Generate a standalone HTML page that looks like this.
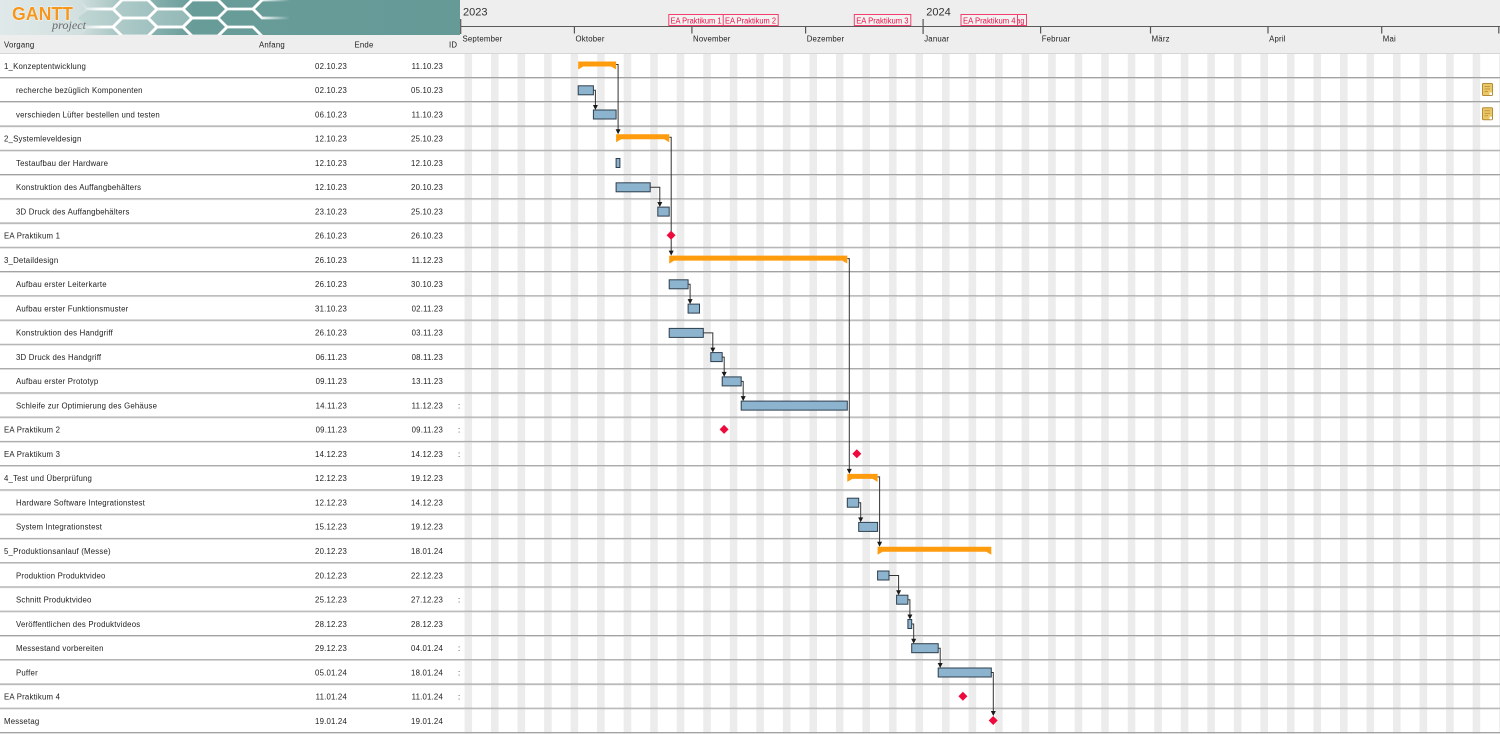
<!DOCTYPE html>
<html><head><meta charset="utf-8"><style>
html,body{margin:0;padding:0;background:#fff;overflow:hidden;width:1500px;height:734px}
svg{display:block}
.t{font-family:"Liberation Sans",sans-serif;font-size:7.8px;letter-spacing:0.2px;fill:#222}
.m{font-family:"Liberation Sans",sans-serif;font-size:7.8px;letter-spacing:0.2px;fill:#222}
.y{font-family:"Liberation Sans",sans-serif;font-size:11px;fill:#333}
.l{font-family:"Liberation Sans",sans-serif;font-size:7.8px;fill:#ec1048}
.bar{fill:#8cb4cf;stroke:#2e3e4d;stroke-width:1}
.sum{fill:#fe9c0e}
.ms{fill:#ee0a3c}
.dep{stroke:#333;stroke-width:1;fill:none}
.ah{fill:#1a1a1a}
</style></head><body>
<svg width="1500" height="734" viewBox="0 0 1500 734" xmlns="http://www.w3.org/2000/svg">
<defs>
<linearGradient id="lg" gradientUnits="userSpaceOnUse" x1="0" y1="0" x2="460" y2="0">
<stop offset="0" stop-color="#e0e9e9"/>
<stop offset="0.17" stop-color="#d2e0df"/>
<stop offset="0.30" stop-color="#93b8b6"/>
<stop offset="0.42" stop-color="#689c99"/>
<stop offset="1" stop-color="#659a97"/>
</linearGradient>
<linearGradient id="fade" gradientUnits="userSpaceOnUse" x1="80" y1="0" x2="290" y2="0">
<stop offset="0" stop-color="#fff" stop-opacity="0"/>
<stop offset="0.12" stop-color="#fff" stop-opacity="0.9"/>
<stop offset="0.85" stop-color="#fff" stop-opacity="1"/>
<stop offset="1" stop-color="#fff" stop-opacity="0"/>
</linearGradient>
<clipPath id="logoclip"><rect x="0" y="0" width="460" height="35"/></clipPath>
</defs>

<!-- header backgrounds -->
<rect x="0" y="0" width="1500" height="54" fill="#eeeeee"/>
<!-- logo -->
<g clip-path="url(#logoclip)">
<rect x="0" y="0" width="460" height="35" fill="url(#lg)"/>
<g fill="#b4cfcd" fill-opacity="0.55">
<polygon points="113,9 122,0 148,0 157,9 148,18 122,18"/>
<polygon points="148,18 157,9 183,9 192,18 183,27 157,27"/>
<polygon points="113,27 122,18 148,18 157,27 148,36 122,36"/>
<polygon points="78,18 87,9 113,9 122,18 113,27 87,27"/>
</g>
<g fill="none" stroke="url(#fade)" stroke-width="2.8">
<polygon points="78,0 87,-9 113,-9 122,0 113,9 87,9"/>
<polygon points="78,18 87,9 113,9 122,18 113,27 87,27"/>
<polygon points="78,36 87,27 113,27 122,36 113,45 87,45"/>
<polygon points="113,9 122,0 148,0 157,9 148,18 122,18"/>
<polygon points="113,27 122,18 148,18 157,27 148,36 122,36"/>
<polygon points="148,0 157,-9 183,-9 192,0 183,9 157,9"/>
<polygon points="148,18 157,9 183,9 192,18 183,27 157,27"/>
<polygon points="148,36 157,27 183,27 192,36 183,45 157,45"/>
<polygon points="183,9 192,0 218,0 227,9 218,18 192,18"/>
<polygon points="183,27 192,18 218,18 227,27 218,36 192,36"/>
<polygon points="218,0 227,-9 253,-9 262,0 253,9 227,9"/>
<polygon points="218,36 227,27 253,27 262,36 253,45 227,45"/>
<polygon points="253,9 262,0 288,0 297,9 288,18 262,18"/>
</g>
<text x="12" y="20" font-family="Liberation Sans,sans-serif" font-weight="bold" font-size="18" fill="#f5961d" stroke="#fff" stroke-width="0.8" paint-order="stroke" textLength="61" lengthAdjust="spacingAndGlyphs">GANTT</text>
<text x="52" y="29" font-family="Liberation Serif,serif" font-style="italic" font-size="12" fill="#6a6a6a" textLength="34" lengthAdjust="spacingAndGlyphs">project</text>
</g>

<!-- table header -->
<rect x="0" y="35" width="460" height="18" fill="#eeeeee"/>
<text class="t" x="4" y="47.7">Vorgang</text>
<text class="t" x="259" y="47.7">Anfang</text>
<text class="t" x="354.5" y="47.7">Ende</text>
<text class="t" x="449" y="47.7">ID</text>

<!-- chart header -->
<line x1="461" y1="26.5" x2="1500" y2="26.5" stroke="#5a5a5a" stroke-width="1"/>
<line x1="460.7" y1="19" x2="460.7" y2="34" stroke="#555" stroke-width="1.2"/>
<line x1="923.1" y1="19" x2="923.1" y2="34" stroke="#555" stroke-width="1.2"/>
<g stroke="#555" stroke-width="1.2">
<line x1="574.4" y1="26.5" x2="574.4" y2="33.5"/>
<line x1="691.9" y1="26.5" x2="691.9" y2="33.5"/>
<line x1="805.6" y1="26.5" x2="805.6" y2="33.5"/>
<line x1="1040.6" y1="26.5" x2="1040.6" y2="33.5"/>
<line x1="1150.5" y1="26.5" x2="1150.5" y2="33.5"/>
<line x1="1268" y1="26.5" x2="1268" y2="33.5"/>
<line x1="1381.7" y1="26.5" x2="1381.7" y2="33.5"/>
<line x1="1498.8" y1="26.5" x2="1498.8" y2="33.5"/>
</g>
<text class="y" x="463" y="15.7">2023</text>
<text class="y" x="926.3" y="15.7">2024</text>
<text class="m" x="462.5" y="41.7">September</text>
<text class="m" x="575.5" y="41.7">Oktober</text>
<text class="m" x="693" y="41.7">November</text>
<text class="m" x="806.7" y="41.7">Dezember</text>
<text class="m" x="924.2" y="41.7">Januar</text>
<text class="m" x="1041.7" y="41.7">Februar</text>
<text class="m" x="1151.6" y="41.7">März</text>
<text class="m" x="1269.1" y="41.7">April</text>
<text class="m" x="1382.8" y="41.7">Mai</text>

<!-- milestone labels in header -->
<rect x="668.8" y="14.5" width="56" height="11" fill="#f2f2f2" stroke="#f2406c" stroke-width="1"/>
<text class="l" x="670.5" y="23.3" textLength="51" lengthAdjust="spacingAndGlyphs">EA Praktikum 1</text>
<rect x="723.2" y="14.5" width="55" height="11" fill="#f2f2f2" stroke="#f2406c" stroke-width="1"/>
<text class="l" x="725" y="23.3" textLength="51" lengthAdjust="spacingAndGlyphs">EA Praktikum 2</text>
<rect x="854.3" y="14.5" width="56.5" height="11" fill="#f2f2f2" stroke="#f2406c" stroke-width="1"/>
<text class="l" x="856.2" y="23.3" textLength="52.4" lengthAdjust="spacingAndGlyphs">EA Praktikum 3</text>
<rect x="991.5" y="14.5" width="35" height="11" fill="#f2f2f2" stroke="#f2406c" stroke-width="1"/>
<text class="l" x="993.3" y="23.3" textLength="31" lengthAdjust="spacingAndGlyphs">Messetag</text>
<rect x="961" y="14.5" width="56.5" height="11" fill="#f2f2f2" stroke="#f2406c" stroke-width="1"/>
<text class="l" x="963" y="23.3" textLength="52.6" lengthAdjust="spacingAndGlyphs">EA Praktikum 4</text>

<line x1="0" y1="53.5" x2="1500" y2="53.5" stroke="#d6d6d6" stroke-width="1"/>

<!-- weekend stripes -->
<g fill="#ececec">
<rect x="464.49" y="54" width="7.58" height="680"/><rect x="491.02" y="54" width="7.58" height="680"/><rect x="517.55" y="54" width="7.58" height="680"/><rect x="544.08" y="54" width="7.58" height="680"/><rect x="570.61" y="54" width="7.58" height="680"/><rect x="597.14" y="54" width="7.58" height="680"/><rect x="623.67" y="54" width="7.58" height="680"/><rect x="650.2" y="54" width="7.58" height="680"/><rect x="676.73" y="54" width="7.58" height="680"/><rect x="703.26" y="54" width="7.58" height="680"/>
<rect x="729.79" y="54" width="7.58" height="680"/><rect x="756.32" y="54" width="7.58" height="680"/><rect x="782.85" y="54" width="7.58" height="680"/><rect x="809.38" y="54" width="7.58" height="680"/><rect x="835.91" y="54" width="7.58" height="680"/><rect x="862.44" y="54" width="7.58" height="680"/><rect x="888.97" y="54" width="7.58" height="680"/><rect x="915.5" y="54" width="7.58" height="680"/><rect x="942.03" y="54" width="7.58" height="680"/><rect x="968.56" y="54" width="7.58" height="680"/>
<rect x="995.09" y="54" width="7.58" height="680"/><rect x="1021.62" y="54" width="7.58" height="680"/><rect x="1048.15" y="54" width="7.58" height="680"/><rect x="1074.68" y="54" width="7.58" height="680"/><rect x="1101.21" y="54" width="7.58" height="680"/><rect x="1127.74" y="54" width="7.58" height="680"/><rect x="1154.27" y="54" width="7.58" height="680"/><rect x="1180.8" y="54" width="7.58" height="680"/><rect x="1207.33" y="54" width="7.58" height="680"/><rect x="1233.86" y="54" width="7.58" height="680"/>
<rect x="1260.39" y="54" width="7.58" height="680"/><rect x="1286.92" y="54" width="7.58" height="680"/><rect x="1313.45" y="54" width="7.58" height="680"/><rect x="1339.98" y="54" width="7.58" height="680"/><rect x="1366.51" y="54" width="7.58" height="680"/><rect x="1393.04" y="54" width="7.58" height="680"/><rect x="1419.57" y="54" width="7.58" height="680"/><rect x="1446.1" y="54" width="7.58" height="680"/><rect x="1472.63" y="54" width="7.58" height="680"/><rect x="1499.16" y="54" width="7.58" height="680"/>
</g>

<!-- row separators -->
<g fill="#a2a2a2">
<rect x="0" y="77" width="1500" height="1"/><rect x="0" y="101" width="1500" height="1"/><rect x="0" y="125.5" width="1500" height="1"/><rect x="0" y="149.8" width="1500" height="1"/><rect x="0" y="174" width="1500" height="1"/><rect x="0" y="198.3" width="1500" height="1"/><rect x="0" y="222.5" width="1500" height="1"/><rect x="0" y="246.8" width="1500" height="1"/><rect x="0" y="271" width="1500" height="1"/><rect x="0" y="295.3" width="1500" height="1"/>
<rect x="0" y="319.6" width="1500" height="1"/><rect x="0" y="343.8" width="1500" height="1"/><rect x="0" y="368.1" width="1500" height="1"/><rect x="0" y="392.4" width="1500" height="1"/><rect x="0" y="416.6" width="1500" height="1"/><rect x="0" y="440.9" width="1500" height="1"/><rect x="0" y="465.1" width="1500" height="1"/><rect x="0" y="489.4" width="1500" height="1"/><rect x="0" y="513.7" width="1500" height="1"/><rect x="0" y="537.9" width="1500" height="1"/>
<rect x="0" y="562.2" width="1500" height="1"/><rect x="0" y="586.4" width="1500" height="1"/><rect x="0" y="610.7" width="1500" height="1"/><rect x="0" y="635" width="1500" height="1"/><rect x="0" y="659.2" width="1500" height="1"/><rect x="0" y="683.5" width="1500" height="1"/><rect x="0" y="707.7" width="1500" height="1"/><rect x="0" y="732" width="1500" height="1"/>
</g>
<g fill="#d4d4d4">
<rect x="0" y="78" width="1500" height="0.8"/><rect x="0" y="102" width="1500" height="0.8"/><rect x="0" y="126.5" width="1500" height="0.8"/><rect x="0" y="150.8" width="1500" height="0.8"/><rect x="0" y="175" width="1500" height="0.8"/><rect x="0" y="199.3" width="1500" height="0.8"/><rect x="0" y="223.5" width="1500" height="0.8"/><rect x="0" y="247.8" width="1500" height="0.8"/><rect x="0" y="272" width="1500" height="0.8"/><rect x="0" y="296.3" width="1500" height="0.8"/>
<rect x="0" y="320.6" width="1500" height="0.8"/><rect x="0" y="344.8" width="1500" height="0.8"/><rect x="0" y="369.1" width="1500" height="0.8"/><rect x="0" y="393.4" width="1500" height="0.8"/><rect x="0" y="417.6" width="1500" height="0.8"/><rect x="0" y="441.9" width="1500" height="0.8"/><rect x="0" y="466.1" width="1500" height="0.8"/><rect x="0" y="490.4" width="1500" height="0.8"/><rect x="0" y="514.7" width="1500" height="0.8"/><rect x="0" y="538.9" width="1500" height="0.8"/>
<rect x="0" y="563.2" width="1500" height="0.8"/><rect x="0" y="587.4" width="1500" height="0.8"/><rect x="0" y="611.7" width="1500" height="0.8"/><rect x="0" y="636" width="1500" height="0.8"/><rect x="0" y="660.2" width="1500" height="0.8"/><rect x="0" y="684.5" width="1500" height="0.8"/><rect x="0" y="708.7" width="1500" height="0.8"/><rect x="0" y="733" width="1500" height="0.8"/>
</g>

<!-- table rows -->
<g class="t">
<text class="t" x="4" y="68.8">1_Konzeptentwicklung</text><text class="t" x="347" y="68.8" text-anchor="end">02.10.23</text><text class="t" x="443" y="68.8" text-anchor="end">11.10.23</text>
<text class="t" x="16" y="93.1">recherche bezüglich Komponenten</text><text class="t" x="347" y="93.1" text-anchor="end">02.10.23</text><text class="t" x="443" y="93.1" text-anchor="end">05.10.23</text>
<text class="t" x="16" y="117.3">verschieden Lüfter bestellen und testen</text><text class="t" x="347" y="117.3" text-anchor="end">06.10.23</text><text class="t" x="443" y="117.3" text-anchor="end">11.10.23</text>
<text class="t" x="4" y="141.6">2_Systemleveldesign</text><text class="t" x="347" y="141.6" text-anchor="end">12.10.23</text><text class="t" x="443" y="141.6" text-anchor="end">25.10.23</text>
<text class="t" x="16" y="165.8">Testaufbau der Hardware</text><text class="t" x="347" y="165.8" text-anchor="end">12.10.23</text><text class="t" x="443" y="165.8" text-anchor="end">12.10.23</text>
<text class="t" x="16" y="190.1">Konstruktion des Auffangbehälters</text><text class="t" x="347" y="190.1" text-anchor="end">12.10.23</text><text class="t" x="443" y="190.1" text-anchor="end">20.10.23</text>
<text class="t" x="16" y="214.4">3D Druck des Auffangbehälters</text><text class="t" x="347" y="214.4" text-anchor="end">23.10.23</text><text class="t" x="443" y="214.4" text-anchor="end">25.10.23</text>
<text class="t" x="4" y="238.6">EA Praktikum 1</text><text class="t" x="347" y="238.6" text-anchor="end">26.10.23</text><text class="t" x="443" y="238.6" text-anchor="end">26.10.23</text>
<text class="t" x="4" y="262.9">3_Detaildesign</text><text class="t" x="347" y="262.9" text-anchor="end">26.10.23</text><text class="t" x="443" y="262.9" text-anchor="end">11.12.23</text>
<text class="t" x="16" y="287.1">Aufbau erster Leiterkarte</text><text class="t" x="347" y="287.1" text-anchor="end">26.10.23</text><text class="t" x="443" y="287.1" text-anchor="end">30.10.23</text>
<text class="t" x="16" y="311.4">Aufbau erster Funktionsmuster</text><text class="t" x="347" y="311.4" text-anchor="end">31.10.23</text><text class="t" x="443" y="311.4" text-anchor="end">02.11.23</text>
<text class="t" x="16" y="335.7">Konstruktion des Handgriff</text><text class="t" x="347" y="335.7" text-anchor="end">26.10.23</text><text class="t" x="443" y="335.7" text-anchor="end">03.11.23</text>
<text class="t" x="16" y="359.9">3D Druck des Handgriff</text><text class="t" x="347" y="359.9" text-anchor="end">06.11.23</text><text class="t" x="443" y="359.9" text-anchor="end">08.11.23</text>
<text class="t" x="16" y="384.2">Aufbau erster Prototyp</text><text class="t" x="347" y="384.2" text-anchor="end">09.11.23</text><text class="t" x="443" y="384.2" text-anchor="end">13.11.23</text>
<text class="t" x="16" y="408.4">Schleife zur Optimierung des Gehäuse</text><text class="t" x="347" y="408.4" text-anchor="end">14.11.23</text><text class="t" x="443" y="408.4" text-anchor="end">11.12.23</text><text class="t" x="458" y="408.4">:</text>
<text class="t" x="4" y="432.7">EA Praktikum 2</text><text class="t" x="347" y="432.7" text-anchor="end">09.11.23</text><text class="t" x="443" y="432.7" text-anchor="end">09.11.23</text><text class="t" x="458" y="432.7">:</text>
<text class="t" x="4" y="457">EA Praktikum 3</text><text class="t" x="347" y="457" text-anchor="end">14.12.23</text><text class="t" x="443" y="457" text-anchor="end">14.12.23</text><text class="t" x="458" y="457">:</text>
<text class="t" x="4" y="481.2">4_Test und Überprüfung</text><text class="t" x="347" y="481.2" text-anchor="end">12.12.23</text><text class="t" x="443" y="481.2" text-anchor="end">19.12.23</text>
<text class="t" x="16" y="505.5">Hardware Software Integrationstest</text><text class="t" x="347" y="505.5" text-anchor="end">12.12.23</text><text class="t" x="443" y="505.5" text-anchor="end">14.12.23</text>
<text class="t" x="16" y="529.7">System Integrationstest</text><text class="t" x="347" y="529.7" text-anchor="end">15.12.23</text><text class="t" x="443" y="529.7" text-anchor="end">19.12.23</text>
<text class="t" x="4" y="554">5_Produktionsanlauf (Messe)</text><text class="t" x="347" y="554" text-anchor="end">20.12.23</text><text class="t" x="443" y="554" text-anchor="end">18.01.24</text>
<text class="t" x="16" y="578.3">Produktion Produktvideo</text><text class="t" x="347" y="578.3" text-anchor="end">20.12.23</text><text class="t" x="443" y="578.3" text-anchor="end">22.12.23</text>
<text class="t" x="16" y="602.5">Schnitt Produktvideo</text><text class="t" x="347" y="602.5" text-anchor="end">25.12.23</text><text class="t" x="443" y="602.5" text-anchor="end">27.12.23</text><text class="t" x="458" y="602.5">:</text>
<text class="t" x="16" y="626.8">Veröffentlichen des Produktvideos</text><text class="t" x="347" y="626.8" text-anchor="end">28.12.23</text><text class="t" x="443" y="626.8" text-anchor="end">28.12.23</text>
<text class="t" x="16" y="651">Messestand vorbereiten</text><text class="t" x="347" y="651" text-anchor="end">29.12.23</text><text class="t" x="443" y="651" text-anchor="end">04.01.24</text><text class="t" x="458" y="651">:</text>
<text class="t" x="16" y="675.3">Puffer</text><text class="t" x="347" y="675.3" text-anchor="end">05.01.24</text><text class="t" x="443" y="675.3" text-anchor="end">18.01.24</text><text class="t" x="458" y="675.3">:</text>
<text class="t" x="4" y="699.6">EA Praktikum 4</text><text class="t" x="347" y="699.6" text-anchor="end">11.01.24</text><text class="t" x="443" y="699.6" text-anchor="end">11.01.24</text><text class="t" x="458" y="699.6">:</text>
<text class="t" x="4" y="723.8">Messetag</text><text class="t" x="347" y="723.8" text-anchor="end">19.01.24</text><text class="t" x="443" y="723.8" text-anchor="end">19.01.24</text>
</g>

<!-- dependency lines -->
<g class="dep">
<path d="M593.4 90.3 H595.4 V106"/>
<path d="M616.1 64.5 H618.1 V130"/>
<path d="M650.2 187.3 H659.8 V203"/>
<path d="M669.2 137.3 H671.2 V251.5"/>
<path d="M688.1 284.3 H690.1 V300"/>
<path d="M703.3 332.9 H712.8 V348.5"/>
<path d="M722.2 357.1 H724.2 V372.8"/>
<path d="M741.2 381.4 H743.2 V397"/>
<path d="M847.3 258.6 H849.3 V469.8"/>
<path d="M858.7 502.7 H860.7 V518.4"/>
<path d="M877.6 476.9 H879.6 V542.6"/>
<path d="M889 575.5 H898.6 V591.2"/>
<path d="M907.9 599.7 H909.9 V615.4"/>
<path d="M911.7 624 H913.7 V639.7"/>
<path d="M938.2 648.2 H940.2 V664"/>
<path d="M991.3 672.5 H993.3 V712"/>
</g>
<g class="ah">
<polygon points="592.9,105 597.9,105 595.4,110"/>
<polygon points="615.6,129.3 620.6,129.3 618.1,134.3"/>
<polygon points="657.3,202 662.3,202 659.8,207"/>
<polygon points="668.7,250.6 673.7,250.6 671.2,255.6"/>
<polygon points="687.6,299.1 692.6,299.1 690.1,304.1"/>
<polygon points="710.3,347.6 715.3,347.6 712.8,352.6"/>
<polygon points="721.7,371.9 726.7,371.9 724.2,376.9"/>
<polygon points="740.7,396.1 745.7,396.1 743.2,401.1"/>
<polygon points="846.8,468.9 851.8,468.9 849.3,473.9"/>
<polygon points="858.2,517.4 863.2,517.4 860.7,522.4"/>
<polygon points="877.1,541.7 882.1,541.7 879.6,546.7"/>
<polygon points="896.1,590.2 901.1,590.2 898.6,595.2"/>
<polygon points="907.4,614.5 912.4,614.5 909.9,619.5"/>
<polygon points="911.2,638.7 916.2,638.7 913.7,643.7"/>
<polygon points="937.7,663 942.7,663 940.2,668"/>
<polygon points="990.8,711 995.8,711 993.3,716"/>
</g>

<!-- summary bars -->
<g class="sum">
<polygon points="578.2,61.5 616.1,61.5 616.1,69.5 611.1,66.5 583.2,66.5 578.2,69.5"/>
<polygon points="616.1,134.3 669.2,134.3 669.2,142.3 664.2,139.3 621.1,139.3 616.1,142.3"/>
<polygon points="669.2,255.6 847.3,255.6 847.3,263.6 842.3,260.6 674.2,260.6 669.2,263.6"/>
<polygon points="847.3,473.9 877.6,473.9 877.6,481.9 872.6,478.9 852.3,478.9 847.3,481.9"/>
<polygon points="877.6,546.7 991.3,546.7 991.3,554.7 986.3,551.7 882.6,551.7 877.6,554.7"/>
</g>

<!-- task bars -->
<g class="bar">
<rect x="578.2" y="85.8" width="15.2" height="9"/>
<rect x="593.4" y="110" width="22.7" height="9"/>
<rect x="616.1" y="158.5" width="3.8" height="9"/>
<rect x="616.1" y="182.8" width="34.1" height="9"/>
<rect x="657.8" y="207.1" width="11.4" height="9"/>
<rect x="669.2" y="279.8" width="18.9" height="9"/>
<rect x="688.1" y="304.1" width="11.4" height="9"/>
<rect x="669.2" y="328.4" width="34.1" height="9"/>
<rect x="710.8" y="352.6" width="11.4" height="9"/>
<rect x="722.2" y="376.9" width="19" height="9"/>
<rect x="741.2" y="401.1" width="106.1" height="9"/>
<rect x="847.3" y="498.2" width="11.4" height="9"/>
<rect x="858.7" y="522.4" width="18.9" height="9"/>
<rect x="877.6" y="571" width="11.4" height="9"/>
<rect x="896.6" y="595.2" width="11.3" height="9"/>
<rect x="907.9" y="619.5" width="3.8" height="9"/>
<rect x="911.7" y="643.7" width="26.5" height="9"/>
<rect x="938.2" y="668" width="53.1" height="9"/>
</g>

<!-- milestones -->
<g class="ms">
<polygon points="671.1,230.8 675.6,235.3 671.1,239.8 666.6,235.3"/>
<polygon points="724.1,424.9 728.6,429.4 724.1,433.9 719.6,429.4"/>
<polygon points="856.8,449.2 861.3,453.7 856.8,458.2 852.3,453.7"/>
<polygon points="962.9,691.8 967.4,696.3 962.9,700.8 958.4,696.3"/>
<polygon points="993.2,716 997.7,720.5 993.2,725 988.7,720.5"/>
</g>

<!-- note icons -->
<g>
<rect x="1482.5" y="83.5" width="10" height="12" rx="1" fill="#ebc865" stroke="#b38a35" stroke-width="1"/>
<line x1="1484.5" y1="86.5" x2="1490" y2="86.5" stroke="#b38a35" stroke-width="0.8"/>
<line x1="1484.5" y1="89" x2="1490" y2="89" stroke="#b38a35" stroke-width="0.8"/>
<line x1="1484.5" y1="91.5" x2="1488" y2="91.5" stroke="#b38a35" stroke-width="0.8"/>
<rect x="1489.5" y="92.5" width="2.5" height="2.5" fill="#fff"/>
<rect x="1482.5" y="107.8" width="10" height="12" rx="1" fill="#ebc865" stroke="#b38a35" stroke-width="1"/>
<line x1="1484.5" y1="110.8" x2="1490" y2="110.8" stroke="#b38a35" stroke-width="0.8"/>
<line x1="1484.5" y1="113.3" x2="1490" y2="113.3" stroke="#b38a35" stroke-width="0.8"/>
<line x1="1484.5" y1="115.8" x2="1488" y2="115.8" stroke="#b38a35" stroke-width="0.8"/>
<rect x="1489.5" y="116.8" width="2.5" height="2.5" fill="#fff"/>
</g>
</svg>
</body></html>
